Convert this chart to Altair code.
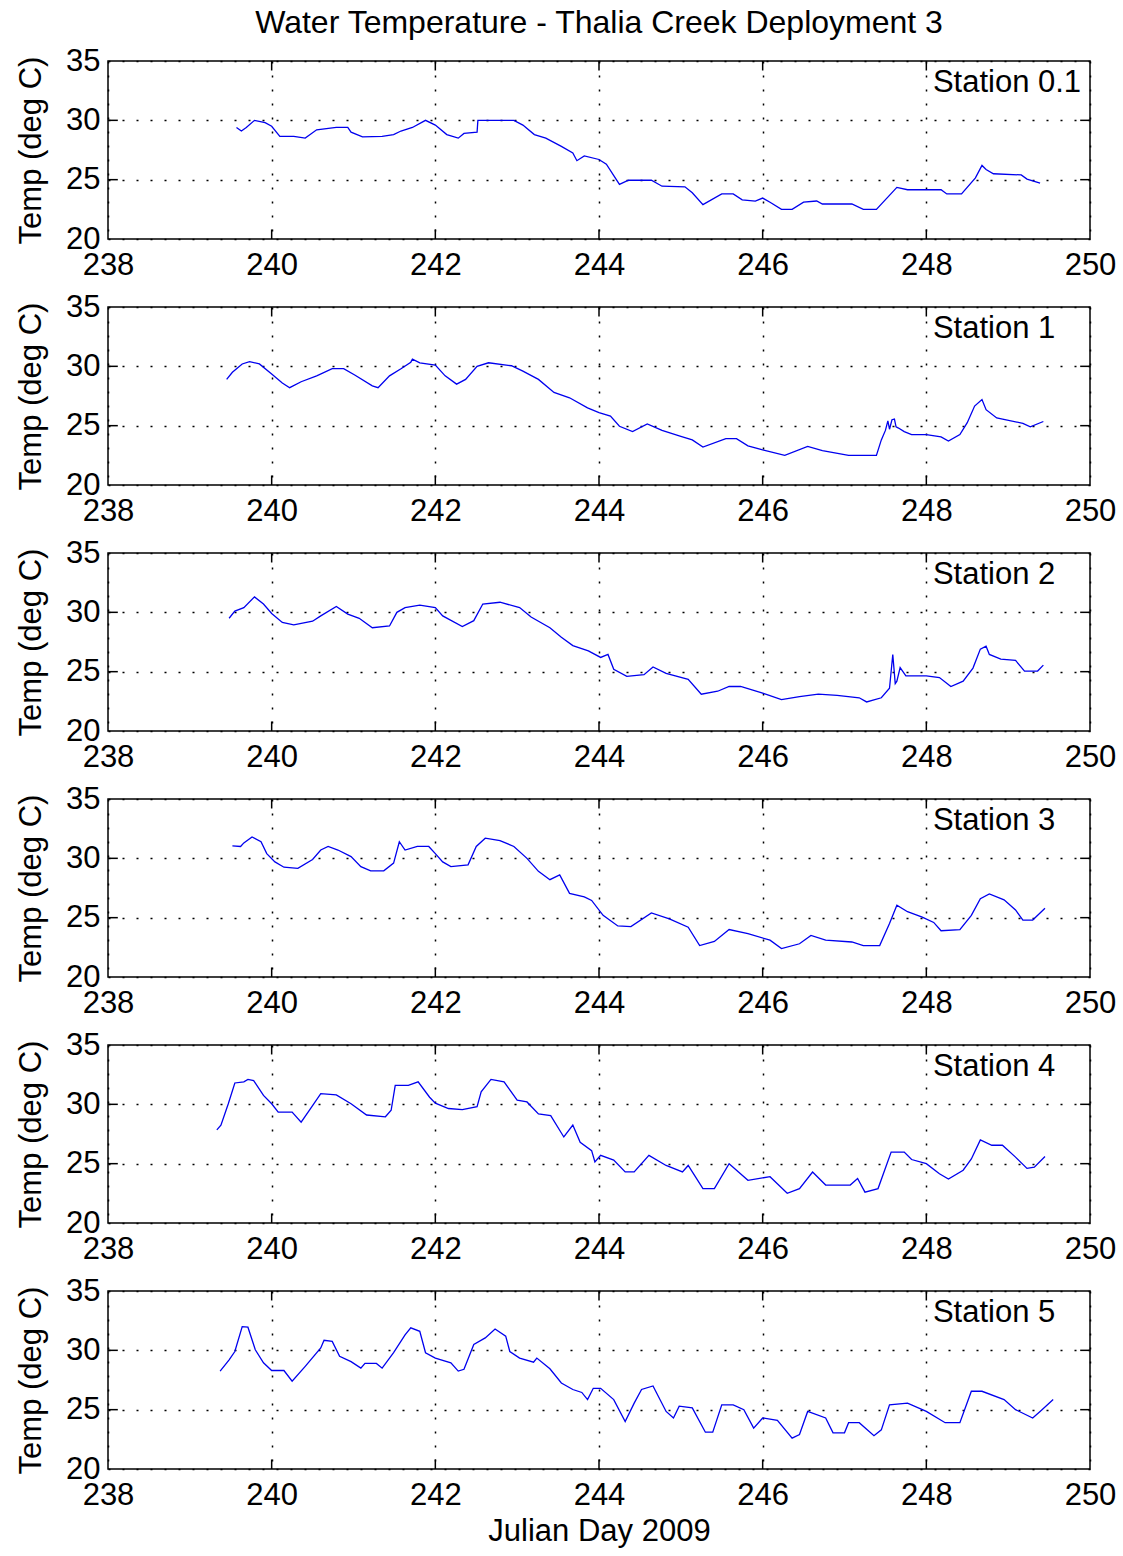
import altair as alt
import pandas as pd

# Water temperature records, Thalia Creek deployment 3 (Julian day, deg C)
stations = ["Station 0.1", "Station 1", "Station 2", "Station 3", "Station 4", "Station 5"]

day_s01 = [239.57, 239.63, 239.69, 239.79, 239.92, 240.0, 240.1, 240.27, 240.41, 240.55, 240.79, 240.93,
           240.97, 241.11, 241.35, 241.49, 241.58, 241.72, 241.88, 242.0, 242.14, 242.28, 242.35, 242.51,
           242.52, 242.65, 242.96, 243.07, 243.21, 243.35, 243.54, 243.68, 243.73, 243.82, 244.0, 244.09,
           244.25, 244.36, 244.64, 244.77, 245.05, 245.14, 245.27, 245.5, 245.64, 245.75, 245.91, 246.0,
           246.09, 246.23, 246.36, 246.5, 246.66, 246.73, 247.09, 247.23, 247.39, 247.64, 247.77, 248.18,
           248.25, 248.43, 248.6, 248.68, 248.73, 248.82, 249.16, 249.23, 249.39]
temp_s01 = [29.4, 29.1, 29.4, 30.0, 29.8, 29.5, 28.65, 28.65, 28.5, 29.2, 29.4, 29.4,
            29.0, 28.6, 28.65, 28.8, 29.1, 29.4, 30.0, 29.6, 28.8, 28.5, 28.9, 29.0,
            30.0, 30.0, 30.0, 29.6, 28.8, 28.5, 27.8, 27.25, 26.6, 27.0, 26.7, 26.3,
            24.6, 24.95, 24.95, 24.45, 24.4, 23.9, 22.9, 23.8, 23.8, 23.3, 23.2, 23.45,
            23.1, 22.5, 22.5, 23.1, 23.2, 22.95, 22.95, 22.5, 22.5, 24.35, 24.15, 24.15,
            23.8, 23.8, 25.15, 26.2, 25.85, 25.5, 25.4, 25.05, 24.7]

day_s1 = [239.45, 239.52, 239.64, 239.73, 239.85, 240.0, 240.13, 240.22, 240.36, 240.55, 240.74, 240.88,
          241.02, 241.23, 241.3, 241.44, 241.58, 241.7, 241.72, 241.81, 242.0, 242.12, 242.26, 242.37,
          242.51, 242.65, 242.93, 243.07, 243.26, 243.45, 243.64, 243.86, 244.0, 244.14, 244.25, 244.41,
          244.59, 244.77, 245.0, 245.14, 245.27, 245.55, 245.68, 245.82, 246.0, 246.27, 246.55, 246.73,
          247.05, 247.39, 247.45, 247.5, 247.53, 247.55, 247.58, 247.61, 247.63, 247.66, 247.73, 247.82,
          248.0, 248.18, 248.27, 248.41, 248.5, 248.59, 248.68, 248.73, 248.86, 249.18, 249.27, 249.43]
temp_s1 = [28.9, 29.5, 30.2, 30.4, 30.2, 29.35, 28.6, 28.2, 28.7, 29.2, 29.8, 29.8,
           29.25, 28.35, 28.2, 29.2, 29.8, 30.35, 30.6, 30.3, 30.1, 29.2, 28.5, 28.9,
           30.0, 30.3, 30.05, 29.6, 28.9, 27.8, 27.35, 26.5, 26.1, 25.8, 24.95, 24.5,
           25.15, 24.6, 24.1, 23.8, 23.2, 23.9, 23.9, 23.3, 22.95, 22.5, 23.25, 22.9,
           22.5, 22.5, 23.8, 24.6, 25.4, 24.7, 25.5, 25.55, 24.9, 24.8, 24.5, 24.25,
           24.25, 24.05, 23.7, 24.25, 25.25, 26.65, 27.2, 26.35, 25.65, 25.2, 24.9, 25.35]

day_s2 = [239.48, 239.55, 239.66, 239.79, 239.9, 240.0, 240.13, 240.27, 240.5, 240.6, 240.79, 240.93,
          241.07, 241.23, 241.44, 241.53, 241.63, 241.81, 242.0, 242.09, 242.33, 242.47, 242.58, 242.79,
          243.03, 243.17, 243.4, 243.54, 243.68, 243.87, 244.02, 244.11, 244.18, 244.34, 244.55, 244.66,
          244.82, 245.09, 245.25, 245.45, 245.59, 245.73, 246.0, 246.23, 246.45, 246.68, 246.91, 247.18,
          247.27, 247.45, 247.55, 247.59, 247.62, 247.64, 247.68, 247.75, 248.0, 248.16, 248.3, 248.45,
          248.57, 248.66, 248.73, 248.77, 248.91, 249.09, 249.2, 249.36, 249.43]
temp_s2 = [29.5, 30.1, 30.4, 31.3, 30.7, 29.9, 29.15, 28.95, 29.25, 29.7, 30.5, 29.85,
           29.5, 28.7, 28.85, 30.0, 30.4, 30.6, 30.4, 29.7, 28.8, 29.3, 30.7, 30.85,
           30.4, 29.6, 28.7, 27.9, 27.2, 26.75, 26.2, 26.45, 25.2, 24.6, 24.75, 25.4,
           24.85, 24.35, 23.1, 23.35, 23.75, 23.75, 23.2, 22.65, 22.9, 23.1, 23.0, 22.8,
           22.45, 22.8, 23.6, 26.45, 24.0, 24.2, 25.35, 24.65, 24.65, 24.5, 23.75, 24.2,
           25.3, 26.9, 27.15, 26.45, 26.05, 25.95, 25.05, 25.05, 25.55]

day_s3 = [239.52, 239.62, 239.66, 239.76, 239.87, 239.94, 240.04, 240.15, 240.32, 240.5, 240.6, 240.69,
          240.81, 240.97, 241.09, 241.21, 241.37, 241.49, 241.56, 241.63, 241.78, 241.92, 242.0, 242.09,
          242.19, 242.4, 242.5, 242.61, 242.79, 242.96, 243.12, 243.26, 243.4, 243.52, 243.64, 243.82,
          243.91, 244.05, 244.23, 244.39, 244.64, 244.86, 245.09, 245.23, 245.41, 245.59, 245.82, 246.09,
          246.23, 246.45, 246.59, 246.77, 247.09, 247.23, 247.43, 247.55, 247.64, 247.77, 247.95, 248.09,
          248.18, 248.41, 248.55, 248.66, 248.77, 248.95, 249.09, 249.18, 249.3, 249.45]
temp_s3 = [31.05, 31.0, 31.3, 31.8, 31.4, 30.4, 29.7, 29.25, 29.15, 29.9, 30.7, 31.0,
           30.7, 30.15, 29.3, 28.95, 28.95, 29.6, 31.4, 30.7, 31.0, 31.0, 30.4, 29.7,
           29.3, 29.45, 31.0, 31.7, 31.5, 31.0, 30.0, 28.9, 28.2, 28.6, 27.05, 26.75,
           26.45, 25.2, 24.3, 24.25, 25.4, 24.9, 24.2, 22.65, 23.0, 24.0, 23.65, 23.1,
           22.4, 22.8, 23.5, 23.1, 22.95, 22.65, 22.65, 24.5, 26.05, 25.5, 25.05, 24.6,
           23.9, 24.0, 25.2, 26.6, 27.0, 26.5, 25.65, 24.8, 24.8, 25.8]

day_s4 = [239.33, 239.38, 239.47, 239.55, 239.66, 239.71, 239.78, 239.9, 240.0, 240.08, 240.25, 240.36,
          240.46, 240.6, 240.79, 240.97, 241.16, 241.39, 241.46, 241.51, 241.67, 241.79, 241.93, 242.0,
          242.16, 242.33, 242.51, 242.56, 242.68, 242.84, 243.0, 243.12, 243.26, 243.41, 243.57, 243.68,
          243.77, 243.91, 243.95, 244.02, 244.18, 244.32, 244.43, 244.61, 244.82, 245.02, 245.09, 245.27,
          245.41, 245.59, 245.82, 246.09, 246.3, 246.45, 246.61, 246.77, 247.07, 247.16, 247.25, 247.41,
          247.57, 247.73, 247.82, 248.0, 248.16, 248.27, 248.45, 248.55, 248.66, 248.8, 248.93, 249.09,
          249.23, 249.32, 249.45]
temp_s4 = [27.85, 28.25, 30.05, 31.8, 31.9, 32.1, 32.0, 30.75, 30.05, 29.35, 29.35, 28.5,
           29.5, 30.9, 30.8, 30.05, 29.1, 28.95, 29.5, 31.6, 31.6, 31.9, 30.6, 30.1,
           29.65, 29.55, 29.8, 31.05, 32.1, 31.9, 30.35, 30.2, 29.2, 29.05, 27.25, 28.25,
           26.8, 26.1, 25.15, 25.7, 25.3, 24.3, 24.3, 25.7, 24.85, 24.3, 24.85, 22.9,
           22.9, 25.0, 23.6, 23.9, 22.5, 22.9, 24.3, 23.2, 23.2, 23.75, 22.6, 22.9,
           25.98, 25.98, 25.35, 25.0, 24.15, 23.7, 24.45, 25.4, 27.0, 26.55, 26.55, 25.55,
           24.6, 24.7, 25.6]

day_s5 = [239.37, 239.48, 239.55, 239.64, 239.71, 239.8, 239.9, 240.0, 240.15, 240.25, 240.41, 240.6,
          240.64, 240.74, 240.83, 240.97, 241.09, 241.14, 241.28, 241.35, 241.49, 241.63, 241.7, 241.81,
          241.88, 242.0, 242.19, 242.28, 242.35, 242.47, 242.61, 242.73, 242.86, 242.91, 243.03, 243.2,
          243.24, 243.4, 243.54, 243.68, 243.79, 243.86, 243.93, 244.02, 244.18, 244.32, 244.43, 244.52,
          244.66, 244.82, 244.91, 244.98, 245.14, 245.3, 245.39, 245.5, 245.64, 245.77, 245.89, 246.0,
          246.18, 246.36, 246.45, 246.55, 246.77, 246.86, 247.0, 247.05, 247.18, 247.36, 247.45, 247.55,
          247.77, 248.0, 248.23, 248.41, 248.55, 248.68, 248.95, 249.09, 249.3, 249.39, 249.55]
temp_s5 = [28.25, 29.2, 29.9, 32.0, 31.95, 30.05, 28.95, 28.3, 28.3, 27.4, 28.65, 30.2,
           30.85, 30.75, 29.5, 29.05, 28.5, 28.9, 28.9, 28.5, 29.8, 31.3, 31.9, 31.6,
           29.8, 29.35, 28.95, 28.25, 28.4, 30.5, 31.05, 31.8, 31.2, 29.9, 29.35, 29.0,
           29.35, 28.45, 27.25, 26.7, 26.45, 25.85, 26.8, 26.8, 25.85, 24.0, 25.55, 26.7,
           27.0, 24.85, 24.3, 25.3, 25.15, 23.1, 23.1, 25.4, 25.4, 25.0, 23.45, 24.3,
           24.1, 22.6, 22.9, 24.85, 24.3, 23.05, 23.05, 23.9, 23.9, 22.8, 23.3, 25.4,
           25.55, 24.85, 23.9, 23.9, 26.55, 26.55, 25.85, 25.0, 24.3, 24.85, 25.85]

days = [day_s01, day_s1, day_s2, day_s3, day_s4, day_s5]
temps = [temp_s01, temp_s1, temp_s2, temp_s3, temp_s4, temp_s5]

x_ticks = [238, 240, 242, 244, 246, 248, 250]
y_ticks = [20, 25, 30, 35]
x_domain = [238, 250]
y_domain = [20, 35]

FONT = "Liberation Sans"
LINE_BLUE = "#0000ee"
PANEL_W = 982
PANEL_H = 178

# short inward tick marks along the box edges, as MATLAB draws them
x_tick_len = 0.8    # deg C
y_tick_len = 0.12   # days
tick_rows = []
for xv in x_ticks[1:-1]:
    tick_rows.append({"x": xv, "x2": xv, "y": y_domain[0], "y2": y_domain[0] + x_tick_len})
    tick_rows.append({"x": xv, "x2": xv, "y": y_domain[1] - x_tick_len, "y2": y_domain[1]})
for yv in y_ticks[1:-1]:
    tick_rows.append({"x": x_domain[0], "x2": x_domain[0] + y_tick_len, "y": yv, "y2": yv})
    tick_rows.append({"x": x_domain[1] - y_tick_len, "x2": x_domain[1], "y": yv, "y2": yv})
ticks_df = pd.DataFrame(tick_rows)


def panel(i):
    df = pd.DataFrame({"day": days[i], "temp": temps[i]})
    last = i == len(stations) - 1
    x_axis = alt.Axis(
        values=x_ticks, format="d", grid=True, gridDash=[2, 12], gridColor="black",
        gridWidth=1.5, gridOpacity=1, ticks=False, domain=False,
        labelFontSize=31, labelFont=FONT, labelColor="black", labelPadding=11,
        labelFlush=False, labelOverlap=False,
        title="Julian Day 2009" if last else None,
        titleFontSize=31, titleFont=FONT, titleFontWeight="normal", titleColor="black",
        titlePadding=6,
    )
    y_axis = alt.Axis(
        values=y_ticks, format="d", grid=True, gridDash=[2, 12], gridColor="black",
        gridWidth=1.5, gridOpacity=1, ticks=False, domain=False,
        labelFontSize=31, labelFont=FONT, labelColor="black", labelPadding=8,
        labelFlush=False, labelOverlap=False,
        title="Temp (deg C)", titleFontSize=31, titleFont=FONT,
        titleFontWeight="normal", titleColor="black", titlePadding=18,
    )
    x_enc = alt.X("day:Q", scale=alt.Scale(domain=x_domain, nice=False, zero=False), axis=x_axis)
    y_enc = alt.Y("temp:Q", scale=alt.Scale(domain=y_domain, nice=False, zero=False), axis=y_axis)

    line = alt.Chart(df).mark_line(color=LINE_BLUE, strokeWidth=1.3).encode(x=x_enc, y=y_enc)

    ticks = alt.Chart(ticks_df).mark_rule(color="black", strokeWidth=1.5).encode(
        x="x:Q", x2="x2:Q", y="y:Q", y2="y2:Q"
    )

    label = alt.Chart(pd.DataFrame({"day": [248.08], "temp": [33.15], "name": [stations[i]]})).mark_text(
        align="left", baseline="middle", font=FONT, fontSize=31, color="black"
    ).encode(x="day:Q", y="temp:Q", text="name:N")

    return alt.layer(line, ticks, label).properties(width=PANEL_W, height=PANEL_H)


chart = alt.vconcat(*[panel(i) for i in range(len(stations))], spacing=68, bounds="flush").properties(
    title=alt.TitleParams(
        "Water Temperature - Thalia Creek Deployment 3",
        fontSize=32, font=FONT, fontWeight="normal", color="black",
        anchor="middle", frame="group", offset=4,
    ),
    padding={"left": 14, "top": 7, "right": 4, "bottom": 4},
    background="white",
).configure_view(
    stroke="black", strokeWidth=1.5
)

chart.save("out.html", embed_options={"renderer": "svg", "actions": False})
